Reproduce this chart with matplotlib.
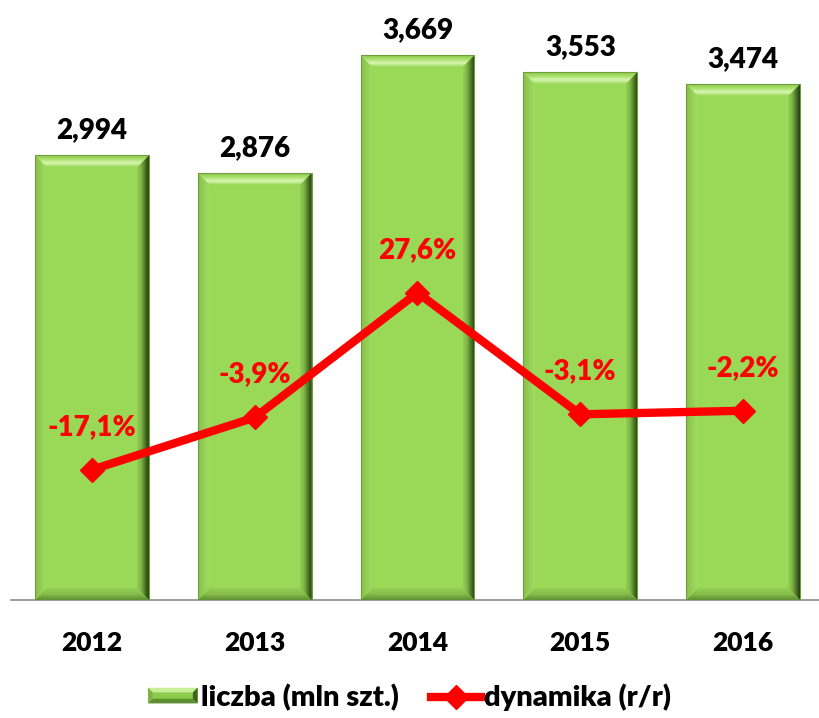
import numpy as np
import matplotlib
matplotlib.use('Agg')
import matplotlib.pyplot as plt
from matplotlib.patches import Polygon, Patch, Rectangle
from matplotlib.lines import Line2D
from matplotlib.colors import LinearSegmentedColormap
from matplotlib.legend_handler import HandlerBase

plt.rcParams['font.family'] = ['Lato', 'DejaVu Sans']
plt.rcParams['font.weight'] = 'heavy'

# dane
years = ['2012', '2013', '2014', '2015', '2016']
liczba = [2.994, 2.876, 3.669, 3.553, 3.474]
dynamika = [-17.1, -3.9, 27.6, -3.1, -2.2]
liczba_labels = ['2,994', '2,876', '3,669', '3,553', '3,474']
dyn_labels = ['-17,1%', '-3,9%', '27,6%', '-3,1%', '-2,2%']

GREEN = '#9AD957'
RED = '#FF0000'
FW = 'heavy'

fig = plt.figure(figsize=(8.19, 7.18), dpi=100)
ax = fig.add_axes([0.0129, 0.1643, 0.9937, 0.8273])
ax2 = ax.twinx()

x = np.arange(len(years))
w = 0.70
bars = ax.bar(x, liczba, width=w, color=GREEN, zorder=2, linewidth=0)


def grad_poly(ax, pts, colors, axis, z=3):
    pts = np.asarray(pts)
    poly = Polygon(pts, closed=True, facecolor='none', edgecolor='none')
    ax.add_patch(poly)
    cmap = LinearSegmentedColormap.from_list('g', colors)
    t = np.linspace(0, 1, 64)
    arr = t[None, :] if axis == 'x' else t[:, None]
    im = ax.imshow(arr, cmap=cmap, origin='lower', aspect='auto', interpolation='bilinear',
                   extent=[pts[:, 0].min(), pts[:, 0].max(), pts[:, 1].min(), pts[:, 1].max()],
                   zorder=z)
    im.set_clip_path(poly)


dx, dy = 0.072, 0.08
for b in bars:
    x0 = b.get_x()
    x1 = x0 + b.get_width()
    y1 = b.get_height()
    y0 = 0
    # gora
    grad_poly(ax, [(x0, y1), (x1, y1), (x1 - dx, y1 - dy), (x0 + dx, y1 - dy)],
              ['#9AD957', '#D9F6B4', '#A9E06A', '#8CC84E'], 'y')
    # prawa
    grad_poly(ax, [(x1, y1), (x1, y0), (x1 - dx, y0 + dy), (x1 - dx, y1 - dy)],
              ['#92CF52', '#7FB548', '#4E7A28', '#223811'], 'x')
    # dol
    grad_poly(ax, [(x0, y0), (x1, y0), (x1 - dx, y0 + dy), (x0 + dx, y0 + dy)],
              ['#5E8F31', '#86BC4C', '#94CF55'], 'y')
    # lewa
    grad_poly(ax, [(x0, y0), (x0, y1), (x0 + dx, y1 - dy), (x0 + dx, y0 + dy)],
              ['#86C04A', '#A2DD62'], 'x')
    ax.add_patch(Rectangle((x0, y0), x1 - x0, y1, facecolor='none', edgecolor='#6F9E3C',
                           linewidth=0.8, zorder=4))

for xi, v, lab in zip(x, liczba, liczba_labels):
    ax.annotate(lab, (xi, v), xytext=(0, 25), textcoords='offset pixels',
                ha='center', va='center', fontsize=20, fontweight=FW, color='black')

ax.set_xlim(-0.5, 4.5)
ax.set_ylim(0, 4)
ax.set_yticks([])
ax.set_xticks(x)
ax.set_xticklabels(years, fontsize=19, fontweight=FW)
ax.tick_params(axis='x', length=0, pad=22)
for s in ['top', 'left', 'right']:
    ax.spines[s].set_visible(False)
ax.spines['bottom'].set_color('#8C8C8C')
ax.spines['bottom'].set_linewidth(1.2)

ax2.plot(x, dynamika, color=RED, linewidth=6, marker='D', markersize=12, zorder=5)
for xi, v, lab in zip(x, dynamika, dyn_labels):
    ax2.annotate(lab, (xi, v), xytext=(0, 43), textcoords='offset pixels',
                 ha='center', va='center', fontsize=20, fontweight=FW, color=RED)
ax2.set_ylim(-50, 100)
ax2.set_yticks([])
for s in ['top', 'left', 'right', 'bottom']:
    ax2.spines[s].set_visible(False)


class BevelHandler(HandlerBase):
    def create_artists(self, legend, orig_handle, xdescent, ydescent, width, height, fontsize, trans):
        x0, y0 = -xdescent, -ydescent
        x1, y1 = x0 + width, y0 + height
        d = height * 0.3
        arts = [Rectangle((x0, y0), width, height, facecolor='#8CCB4B', edgecolor='none', transform=trans)]
        arts.append(Polygon([(x0, y1), (x1, y1), (x1 - d, y1 - d), (x0 + d, y1 - d)],
                            facecolor='#C8EE98', edgecolor='none', transform=trans))
        arts.append(Polygon([(x1, y1), (x1, y0), (x1 - d, y0 + d), (x1 - d, y1 - d)],
                            facecolor='#3F6420', edgecolor='none', transform=trans))
        arts.append(Polygon([(x0, y0), (x1, y0), (x1 - d, y0 + d), (x0 + d, y0 + d)],
                            facecolor='#5E8F31', edgecolor='none', transform=trans))
        arts.append(Polygon([(x0, y0), (x0, y1), (x0 + d, y1 - d), (x0 + d, y0 + d)],
                            facecolor='#7DB444', edgecolor='none', transform=trans))
        return arts


h1 = Patch(facecolor=GREEN)
h2 = Line2D([], [], color=RED, linewidth=6, marker='D', markersize=12)
fig.legend([h1, h2], ['liczba (mln szt.)', 'dynamika (r/r)'], loc='center',
           bbox_to_anchor=(0.5, 0.029), ncol=2, frameon=False,
           prop={'size': 21, 'weight': FW}, handlelength=1.7, handleheight=0.45,
           handletextpad=0.12, columnspacing=1.1, handler_map={Patch: BevelHandler()})

fig.savefig('out.png', dpi=100)
